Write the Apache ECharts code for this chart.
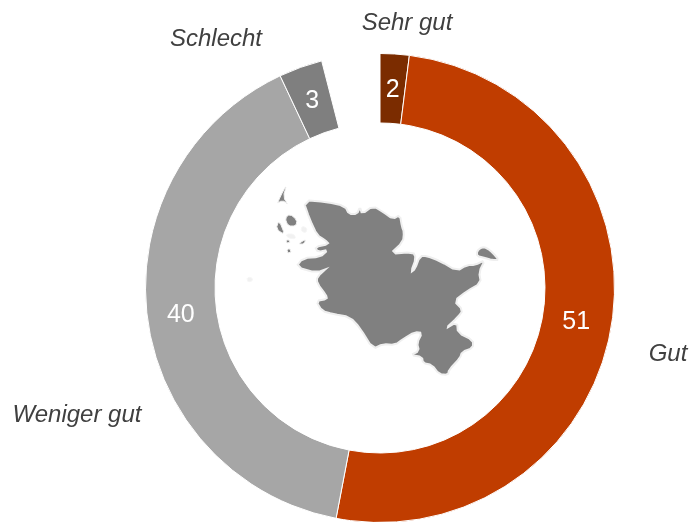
<!DOCTYPE html>
<html lang="de">
	<head>
		<meta charset="UTF-8" />
		<title>Bewertung</title>
		<style>
			* {
				box-sizing: border-box;
				margin: 0;
				padding: 0;
			}

			body {
				background-color: #fff;
			}

			.container {
				width: 691px;
				height: 522px;
			}
		</style>
	</head>
	<body>
		<div class="container" id="chart"></div>
		<script src="https://cdn.jsdelivr.net/npm/echarts@6/dist/echarts.min.js"></script>
		<script>
			const categories = ['Sehr gut', 'Gut', 'Weniger gut', 'Schlecht']
			const values = [2, 51, 40, 3]
			const noAnswer = 4 // Rest auf 100, bleibt als Luecke frei
			const colors = ['#7b2c00', '#c03d00', '#a6a6a6', '#7f7f7f']

			// Umriss Schleswig-Holstein
			const mainland = [[303,200],[327,202],[345,206],[349,214],[357,214],[360,207],[362,214],[373,206],[383,212],[393,219],[400,215],[402,227],[404,232],[403,242],[390,254],[413,252],[416,258],[411,272],[415,269],[420,256],[427,256],[440,261],[457,271],[467,265],[475,265],[485,260],[479,272],[481,283],[467,291],[454,301],[463,310],[458,317],[445,329],[457,322],[458,333],[473,340],[473,348],[462,352],[460,358],[449,370],[448,375],[439,374],[432,365],[423,363],[422,357],[411,355],[419,351],[417,343],[422,333],[415,332],[403,339],[395,345],[383,344],[373,349],[360,328],[350,317],[333,314],[322,311],[316,301],[327,299],[326,295],[317,283],[317,277],[328,267],[317,273],[296,267],[303,258],[320,257],[328,250],[318,252],[315,247],[329,244],[325,240],[317,235],[310,220]]
			const fehmarn = [[477,251],[482,247],[487,248],[493,253],[499,260],[492,260],[485,258],[477,256]]
			const sylt = [[287,184],[280,197],[277,205],[282,200],[289,205],[283,197]]
			const foehr = [[285,218],[290,214],[297,220],[296,226],[288,226]]
			const amrum = [[279,220],[285,235],[276,229]]
			const pellworm = [[298,244],[306,239],[304,244]]
			const hallig = [[286,240],[290,240],[290,243],[286,243]]
			const hooge = [[287,249],[291,249],[291,253],[287,253]]
			const helgoland = [[247,278],[251,277],[253,280],[250,282],[247,281]]
			const watt = [[286,234],[294,234],[296,239],[288,238]]
			const watt2 = [[302,226],[307,228],[306,233],[301,231]]

			const grayShapes = { mainland, fehmarn, sylt, foehr, amrum, pellworm, hallig, hooge }
			const faintShapes = { helgoland, watt, watt2 }
			const smallShapes = ['sylt', 'foehr', 'amrum', 'pellworm', 'hallig', 'hooge']

			// Ecken der Kuestenlinie abrunden
			function rounded(points) {
				const out = []
				points.forEach((p, i) => {
					const n = points[(i + 1) % points.length]
					out.push([p[0] * 0.75 + n[0] * 0.25, p[1] * 0.75 + n[1] * 0.25])
					out.push([p[0] * 0.25 + n[0] * 0.75, p[1] * 0.25 + n[1] * 0.75])
				})
				return out
			}

			function feature(name, points) {
				return {
					type: 'Feature',
					properties: { name },
					geometry: {
						type: 'Polygon',
						coordinates: [points.concat([points[0]]).map(p => [p[0], -p[1]])]
					}
				}
			}

			const allShapes = { ...faintShapes, ...grayShapes }
			const smoothShapes = Object.keys(allShapes).map(k => ({ name: k, points: rounded(allShapes[k]) }))
			const allPoints = smoothShapes.flatMap(s => s.points)
			const minX = Math.min(...allPoints.map(p => p[0]))
			const maxX = Math.max(...allPoints.map(p => p[0]))
			const minY = Math.min(...allPoints.map(p => p[1]))
			const maxY = Math.max(...allPoints.map(p => p[1]))

			echarts.registerMap('sh', {
				type: 'FeatureCollection',
				features: smoothShapes.map(s => feature(s.name, s.points))
			})

			const labelFont = 'Liberation Sans'
			const chart = echarts.init(document.getElementById('chart'), null, { renderer: 'canvas' })
			const namePos = [[407, 23], [668, 354], [77, 415], [216, 39]]
			const valueShift = [[0, 4], [-4, 2], [2, 2], [1, 4]]

			chart.setOption({
				animation: false,
				geo: {
					map: 'sh',
					roam: false,
					silent: true,
					aspectScale: 1,
					left: minX,
					top: minY,
					width: maxX - minX,
					height: maxY - minY,
					label: { show: false },
					itemStyle: {
						areaColor: '#808080',
						borderColor: '#efefef',
						borderWidth: 2
					},
					regions: Object.keys(faintShapes).map(name => ({
						name,
						itemStyle: { areaColor: '#f1f1f1', borderColor: '#f6f6f6', borderWidth: 1 }
					})).concat(smallShapes.map(name => ({
						name,
						itemStyle: { areaColor: '#808080', borderColor: '#efefef', borderWidth: 1 }
					})))
				},
				series: [
					{
						type: 'pie',
						center: [380, 288],
						radius: [165, 234.5],
						startAngle: 90,
						silent: true,
						data: categories.map((name, i) => ({
							name,
							value: values[i],
							itemStyle: { color: colors[i], borderColor: '#fff', borderWidth: 1 },
							label: { formatter: '{c}' }
						})).concat([{
							name: 'Keine Angabe',
							value: noAnswer,
							itemStyle: { color: 'transparent', borderWidth: 0 },
							label: { show: false },
							labelLine: { show: false }
						}]),
						label: {
							position: 'inside',
							color: '#fff',
							fontFamily: labelFont,
							fontSize: 25
						},
						labelLine: { show: false },
						labelLayout: params => {
							const shift = valueShift[params.dataIndex]
							if (!shift) return {}
							return { dx: shift[0], dy: shift[1] }
						}
					},
					{
						type: 'pie',
						center: [380, 288],
						radius: [234, 235],
						startAngle: 90,
						silent: true,
						data: categories.map((name, i) => ({
							name,
							value: values[i],
							itemStyle: { color: 'transparent' }
						})).concat([{
							name: 'Keine Angabe',
							value: noAnswer,
							itemStyle: { color: 'transparent' },
							label: { show: false },
							labelLine: { show: false }
						}]),
						label: {
							show: true,
							formatter: '{b}',
							color: '#404040',
							fontFamily: labelFont,
							fontStyle: 'italic',
							fontSize: 24,
							overflow: 'none'
						},
						labelLine: { show: false },
						labelLayout: params => {
							const pos = namePos[params.dataIndex]
							if (!pos) return {}
							return { x: pos[0], y: pos[1], align: 'center', verticalAlign: 'middle' }
						}
					}
				]
			})
		</script>
	</body>
</html>
